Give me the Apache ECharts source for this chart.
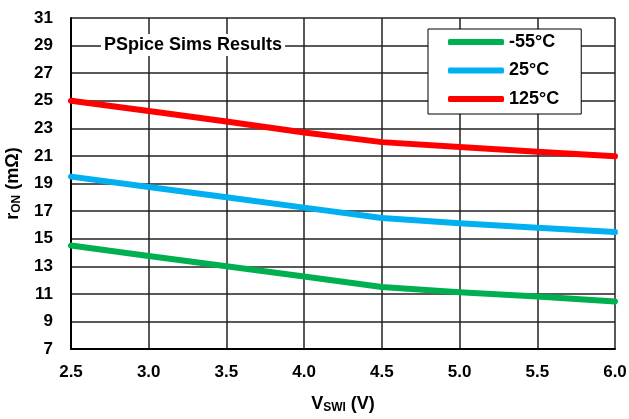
<!DOCTYPE html>
<html>
<head>
<meta charset="utf-8">
<script src="https://cdn.jsdelivr.net/npm/echarts@6/dist/echarts.min.js"></script>
<style>
html,body{margin:0;padding:0;background:#fff;}
#c{width:629px;height:419px;}
</style>
</head>
<body>
<div id="c"></div>
<script>
var vswi = [2.5, 3.0, 3.5, 4.0, 4.5, 5.0, 5.5, 6.0];
var ronM55 = [14.5, 13.75, 13.0, 12.25, 11.5, 11.12, 10.8, 10.45];
var ron25 = [19.5, 18.75, 18.0, 17.25, 16.5, 16.12, 15.8, 15.48];
var ron125 = [25.0, 24.25, 23.5, 22.7, 22.0, 21.65, 21.3, 20.97];
var seriesNames = ['-55°C', '25°C', '125°C'];
var seriesColors = ['#00B050', '#00B0F0', '#FF0000'];
var seriesData = [ronM55, ron25, ron125];

var FONT = 'Liberation Sans, Arial, sans-serif';
var chart = echarts.init(document.getElementById('c'), null, {renderer: 'canvas'});

function pairs(ys) { return vswi.map(function (x, i) { return [x, ys[i]]; }); }

var series = seriesData.map(function (d, i) {
  return {
    name: seriesNames[i],
    type: 'line',
    data: pairs(d),
    showSymbol: false,
    symbol: 'none',
    lineStyle: {color: seriesColors[i], width: 6, cap: 'round', join: 'round'},
    itemStyle: {color: seriesColors[i]},
    z: 3
  };
});

chart.setOption({
  animation: false,
  backgroundColor: '#fff',
  grid: {left: 71, right: 14, top: 18, bottom: 70, containLabel: false, outerBoundsMode: 'none'},
  title: {
    text: 'PSpice Sims Results',
    left: 101, top: 34,
    padding: [2, 3, 2, 3],
    backgroundColor: '#fff',
    textStyle: {fontFamily: FONT, fontSize: 18, fontWeight: 'bold', color: '#000'}
  },
  legend: {
    orient: 'vertical',
    left: 428, top: 29,
    data: seriesNames,
    backgroundColor: '#fff',
    borderColor: '#000',
    borderWidth: 1,
    borderRadius: 0,
    padding: [4, 22, 6, 20],
    itemGap: 10.5,
    itemWidth: 56,
    itemHeight: 6,
    icon: 'roundRect',
    textStyle: {fontFamily: FONT, fontSize: 18, fontWeight: 'bold', color: '#000', lineHeight: 18}
  },
  xAxis: {
    type: 'value',
    min: 2.5, max: 6.0, interval: 0.5,
    name: '{m|V}{s|SWI}{m| (V)}',
    nameLocation: 'middle',
    nameGap: 46,
    nameTextStyle: {
      rich: {
        m: {fontFamily: FONT, fontSize: 18, fontWeight: 'bold', color: '#000'},
        s: {fontFamily: FONT, fontSize: 12, fontWeight: 'bold', color: '#000', verticalAlign: 'bottom', padding: [7, 0, 0, 0]}
      }
    },
    axisLine: {show: true, lineStyle: {color: '#000', width: 2}},
    axisTick: {show: false},
    axisLabel: {fontFamily: FONT, fontSize: 17, fontWeight: 'bold', color: '#000', margin: 15,
      formatter: function (v) { return v.toFixed(1); }},
    splitLine: {show: true, lineStyle: {color: '#222', width: 1.5}}
  },
  yAxis: {
    type: 'value',
    min: 7, max: 31, interval: 2,
    name: '{m|r}{s|ON}{m| (mΩ)}',
    nameLocation: 'middle',
    nameGap: 48,
    nameRotate: 90,
    nameTextStyle: {
      rich: {
        m: {fontFamily: FONT, fontSize: 18, fontWeight: 'bold', color: '#000'},
        s: {fontFamily: FONT, fontSize: 12, fontWeight: 'bold', color: '#000', verticalAlign: 'bottom', padding: [7, 0, 0, 0]}
      }
    },
    axisLine: {show: true, lineStyle: {color: '#000', width: 2}},
    axisTick: {show: false},
    axisLabel: {fontFamily: FONT, fontSize: 17, fontWeight: 'bold', color: '#000', margin: 18},
    splitLine: {show: true, lineStyle: {color: '#222', width: 1.5}}
  },
  series: series
});
</script>
</body>
</html>
